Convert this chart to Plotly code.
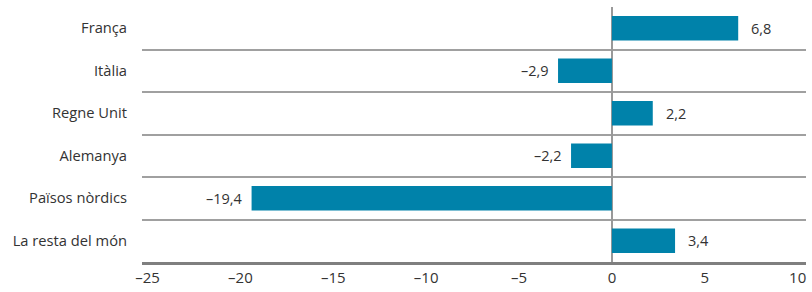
import plotly.graph_objects as go

categories = ["França", "Itàlia", "Regne Unit", "Alemanya", "Països nòrdics", "La resta del món"]
values = [6.8, -2.9, 2.2, -2.2, -19.4, 3.4]
x_ticks = [-25, -20, -15, -10, -5, 0, 5, 10]

def fmt(v):
    s = f"{abs(v):.1f}".replace(".", ",")
    return ("–" + s) if v < 0 else s

ypos = list(range(len(categories)))
BAR = "#0082AA"
GRID = "#A0A0A0"
TXT = "#333333"
FONT = "Open Sans"

fig = go.Figure()
fig.add_trace(go.Bar(
    x=values, y=ypos, orientation="h",
    marker=dict(color=BAR, line=dict(width=0)),
    width=0.58, hoverinfo="skip",
))

for v, y in zip(values, ypos):
    fig.add_annotation(
        x=v, y=y, text=fmt(v), showarrow=False,
        xanchor="left" if v >= 0 else "right",
        xshift=11 if v >= 0 else -7,
        font=dict(family=FONT, size=14.5, color=TXT),
    )

fig.update_layout(
    width=812, height=292,
    margin=dict(l=142, r=6, t=7, b=30),
    paper_bgcolor="white", plot_bgcolor="white",
    showlegend=False,
    font=dict(family=FONT, size=14, color=TXT),
    bargap=0.4,
)
fig.update_xaxes(
    range=[-25.3, 10.45],
    tickvals=x_ticks, ticktext=[("–" + str(-t)) if t < 0 else str(t) for t in x_ticks],
    showgrid=False,
    zeroline=True, zerolinecolor="#999999", zerolinewidth=2,
    showline=True, linecolor="#7F7F7F", linewidth=3,
    ticks="", ticklabelstandoff=0,
    tickfont=dict(family=FONT, size=15, color=TXT),
    fixedrange=True, automargin=False,
)
fig.update_yaxes(
    range=[5.5, -0.5],
    tickvals=ypos, ticktext=categories,
    showgrid=False, zeroline=False, showline=False,
    ticks="", ticklabelstandoff=14,
    minor=dict(tick0=0.5, dtick=1, showgrid=True, gridcolor=GRID, gridwidth=1.5, ticks=""),
    tickfont=dict(family=FONT, size=14.7, color=TXT),
    fixedrange=True, automargin=False,
)

fig.write_html("out.html", config={"displayModeBar": False},
               post_script="document.body.style.margin='0';")
